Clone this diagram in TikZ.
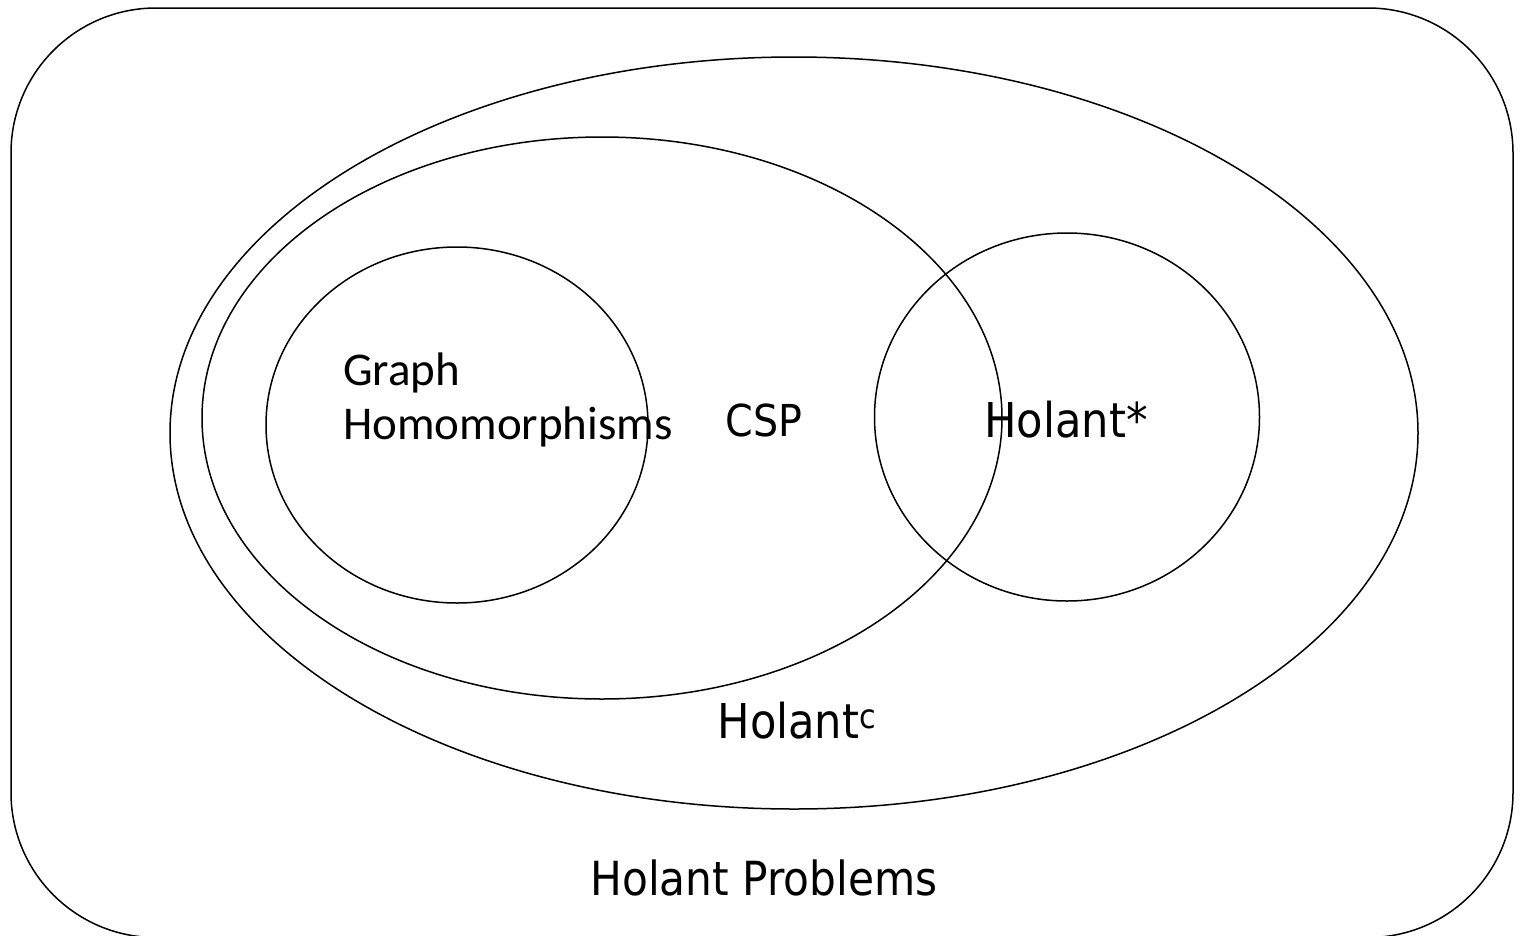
\documentclass[tikz,border=0pt]{standalone}
\usepackage{fontspec}
\setmainfont{DejaVu Sans}
\newfontfamily\calfont{Carlito}
\newfontfamily\tahfont{DejaVu Sans Condensed}
\usetikzlibrary{shapes.geometric}

\begin{document}
\begin{tikzpicture}[x=1pt,y=-1pt,
setnode/.style={ellipse, draw=black, line width=1.5pt, inner sep=0pt},
labelnode/.style={inner sep=0pt, anchor=base, font=\tahfont\fontsize{47}{52}\selectfont},
graphnode/.style={inner sep=0pt, anchor=base west, font=\calfont\fontsize{47}{52}\selectfont}
]
    \useasboundingbox (0,0) rectangle (1521,935);
    \draw[line width=1.5pt, rounded corners=145pt] (11,8) rectangle (1513,937.5);

    \node [setnode, minimum width=1248pt, minimum height=752pt] (holantc) at (794,433) {};
    \node [setnode, minimum width=800pt, minimum height=562pt] (csp) at (602,418) {};
    \node [setnode, minimum width=382pt, minimum height=356pt] (graph) at (457,425) {};
    \node [setnode, minimum width=385pt, minimum height=368pt] (holantstar) at (1067,417) {};

    \node [graphnode] (graphtext1) at (343,385) {Graph};
    \node [graphnode] (graphtext2) at (343,439) {Homomorphisms};
    \node [labelnode, font=\tahfont\fontsize{44}{50}\selectfont] (csptext) at (764,436) {CSP};
    \node [labelnode, font=\tahfont\fontsize{48}{54}\selectfont] (holantstartext) at (1066,437) {Holant*};
    \node [labelnode, font=\tahfont\fontsize{48}{54}\selectfont] (holantctext) at (797,738) {Holant\textsuperscript{c}};
    \node [labelnode] (problemstext) at (764,895) {Holant Problems};
\end{tikzpicture}
\end{document}
